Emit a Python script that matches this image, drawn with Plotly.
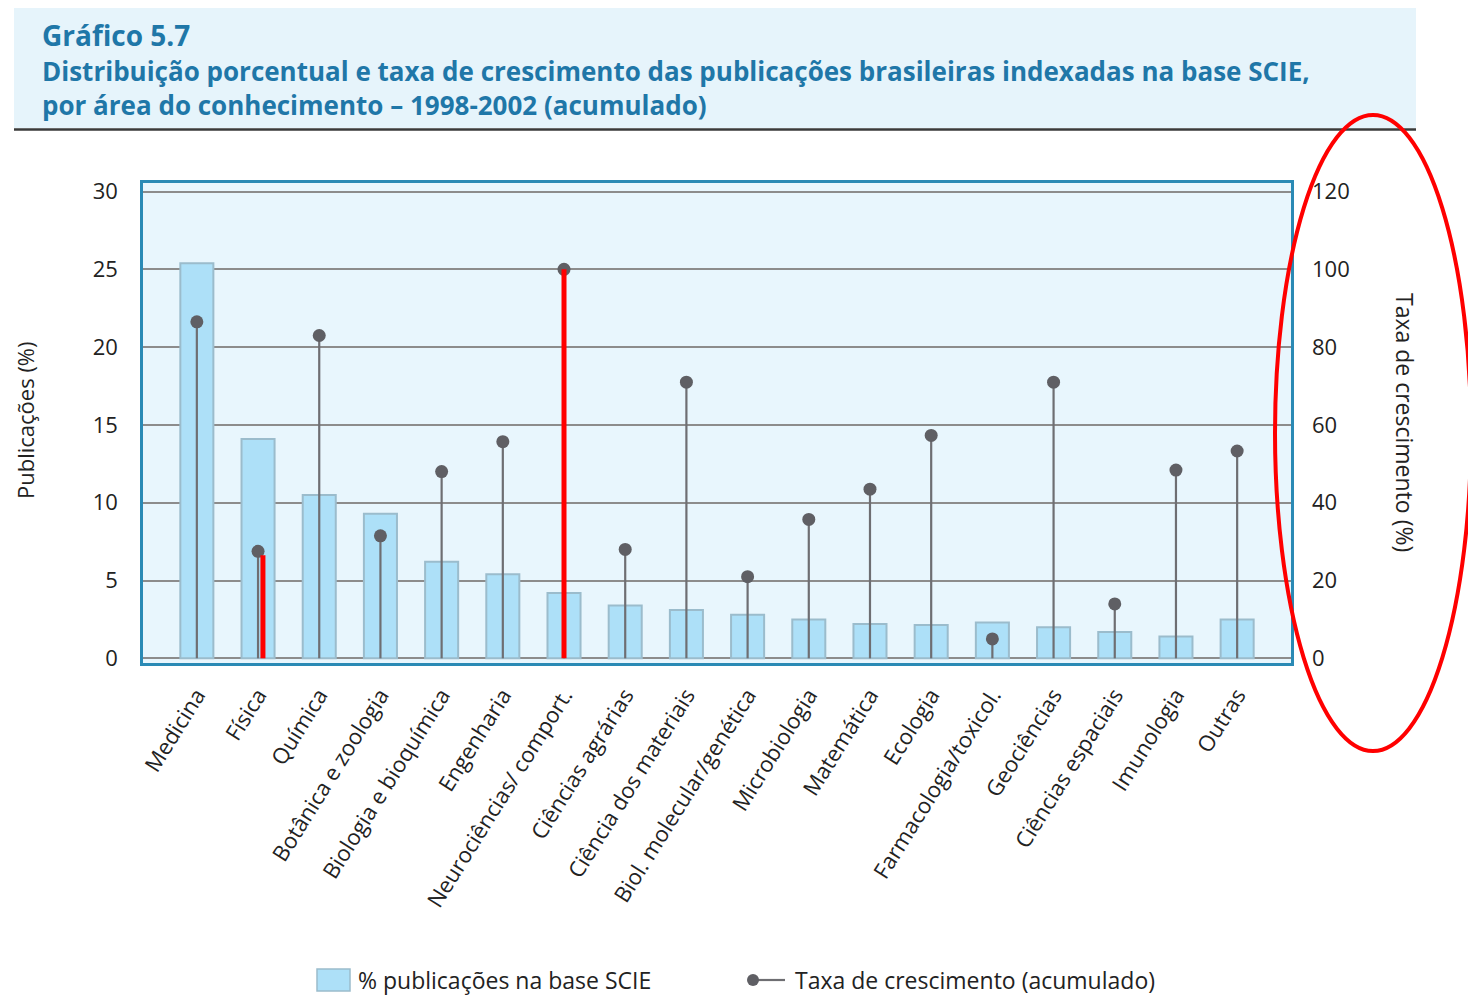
import plotly.graph_objects as go

categories = [
    "Medicina", "Física", "Química", "Botânica e zoologia", "Biologia e bioquímica",
    "Engenharia", "Neurociências/ comport.", "Ciências agrárias", "Ciência dos materiais",
    "Biol. molecular/genética", "Microbiologia", "Matemática", "Ecologia",
    "Farmacologia/toxicol.", "Geociências", "Ciências espaciais", "Imunologia", "Outras",
]
pub_pct = [25.4, 14.1, 10.5, 9.3, 6.2, 5.4, 4.2, 3.4, 3.1, 2.8, 2.5, 2.2, 2.15, 2.3, 2.0, 1.7, 1.4, 2.5]
growth = [86.5, 27.5, 83, 31.5, 48, 55.7, 100, 28, 71, 21, 35.7, 43.5, 57.3, 5, 71, 14, 48.4, 53.3]

highlight_cats = ["Física", "Neurociências/ comport."]
highlight_vals = [26.5, 100]

left_ticks = [0, 5, 10, 15, 20, 25, 30]
right_ticks = [0, 20, 40, 60, 80, 100, 120]

legend_labels = ["% publicações na base SCIE", "Taxa de crescimento (acumulado)"]

FONT = "Open Sans"
OFF = 8  # page body margin
W, H = 1476 - OFF, 997 - OFF
PL, PR, PT, PB = 143, 1291, 183, 663  # plot box in page pixels
L, T = PL - OFF, PT - OFF
R, B = W - (PR - OFF), H - (PB - OFF)
pw, ph = PR - PL, PB - PT

def px(x):
    return (x - PL) / pw

def py(y):
    return (PB - y) / ph

BAR_FILL, BAR_LINE = "#ade0f8", "#9bbccc"
STEM, DOT = "#6e6e72", "#5f5f64"

fig = go.Figure()

fig.add_trace(go.Bar(
    x=categories, y=pub_pct, name=legend_labels[0],
    marker=dict(color=BAR_FILL, line=dict(color=BAR_LINE, width=2)),
    width=0.54, yaxis="y", showlegend=False,
))

stem_x, stem_y = [], []
for c, v in zip(categories, growth):
    stem_x += [c, c, None]
    stem_y += [0, v, None]
fig.add_trace(go.Scatter(
    x=stem_x, y=stem_y, mode="lines", yaxis="y2",
    line=dict(color=STEM, width=2.2), showlegend=False, hoverinfo="skip",
))
fig.add_trace(go.Scatter(
    x=categories, y=growth, mode="markers", yaxis="y2", name=legend_labels[1],
    marker=dict(color=DOT, size=13), showlegend=False,
))

shapes = []
for c, v in zip(highlight_cats, highlight_vals):
    i = categories.index(c)
    off = 0.08 if c == "Física" else 0.0
    shapes.append(dict(type="line", xref="x", yref="y2", x0=i + off, x1=i + off,
                       y0=0, y1=v, line=dict(color="#ff0000", width=5), layer="above"))

# title box
shapes.append(dict(type="rect", xref="paper", yref="paper", x0=px(14), x1=px(1416),
                   y0=py(128), y1=py(8), fillcolor="#e6f4fb", line=dict(width=0), layer="below"))
shapes.append(dict(type="line", xref="paper", yref="paper", x0=px(14), x1=px(1416),
                   y0=py(129.5), y1=py(129.5), line=dict(color="#3a3a3a", width=2.5)))
# red ellipse
shapes.append(dict(type="circle", xref="paper", yref="paper", x0=px(1275), x1=px(1471),
                   y0=py(751), y1=py(115), line=dict(color="#ff0000", width=4)))

# custom legend
shapes.append(dict(type="rect", xref="paper", yref="paper", x0=px(317), x1=px(350),
                   y0=py(991), y1=py(969), fillcolor=BAR_FILL, line=dict(color=BAR_LINE, width=1.5)))
shapes.append(dict(type="line", xref="paper", yref="paper", x0=px(753), x1=px(785),
                   y0=py(980), y1=py(980), line=dict(color=STEM, width=2.2)))
shapes.append(dict(type="circle", xref="paper", yref="paper", x0=px(747), x1=px(759),
                   y0=py(986), y1=py(974), fillcolor=DOT, line=dict(width=0)))

title_col = "#1f77a8"
annotations = [
    dict(text="<b>Gráfico 5.7</b>", x=px(40), y=py(35), xref="paper", yref="paper",
         xanchor="left", yanchor="middle", showarrow=False,
         font=dict(family=FONT, size=28, color=title_col)),
    dict(text="<b>Distribuição porcentual e taxa de crescimento das publicações brasileiras indexadas na base SCIE,"
              "<br>por área do conhecimento – 1998-2002 (acumulado)</b>",
         x=px(40), y=py(88), xref="paper", yref="paper", xanchor="left", yanchor="middle",
         align="left", showarrow=False, font=dict(family=FONT, size=26, color=title_col)),
    dict(text="Publicações (%)", x=px(25), y=py(420), xref="paper", yref="paper",
         xanchor="center", yanchor="middle", textangle=-90, showarrow=False,
         font=dict(family=FONT, size=22, color="#222")),
    dict(text="Taxa de crescimento (%)", x=px(1405), y=py(422), xref="paper", yref="paper",
         xanchor="center", yanchor="middle", textangle=90, showarrow=False,
         font=dict(family=FONT, size=23, color="#222")),
    dict(text=legend_labels[0], x=px(356), y=py(980), xref="paper", yref="paper",
         xanchor="left", yanchor="middle", showarrow=False,
         font=dict(family=FONT, size=23, color="#222")),
    dict(text=legend_labels[1], x=px(793), y=py(980), xref="paper", yref="paper",
         xanchor="left", yanchor="middle", showarrow=False,
         font=dict(family=FONT, size=23, color="#222")),
]

fig.update_layout(
    width=W, height=H,
    margin=dict(l=L, r=R, t=T, b=B, autoexpand=False),
    paper_bgcolor="white", plot_bgcolor="#e8f6fd",
    font=dict(family=FONT, size=19, color="#222"),
    showlegend=False,
    xaxis=dict(
        type="category", range=[-0.88, 17.88], tickangle=-58,
        showgrid=False, ticks="", showline=True, linecolor="#2a8ab5", linewidth=2.5,
        mirror=True, tickfont=dict(size=22, color="#222"), ticklabelstandoff=8,
    ),
    yaxis=dict(
        range=[-0.3, 30.55], tickvals=left_ticks, showgrid=True, gridcolor="#8c8c8c",
        gridwidth=2, zeroline=False, showline=True, linecolor="#2a8ab5", linewidth=2.5,
        mirror=True, ticks="", ticklabelstandoff=18, tickfont=dict(size=22, color="#222"),
    ),
    yaxis2=dict(
        range=[-1.2, 122.2], tickvals=right_ticks, overlaying="y", side="right",
        showgrid=False, zeroline=False, showline=False, ticks="",
        ticklabelstandoff=20, tickfont=dict(size=22, color="#222"),
    ),
    shapes=shapes, annotations=annotations,
)

fig.write_html("out.html")
